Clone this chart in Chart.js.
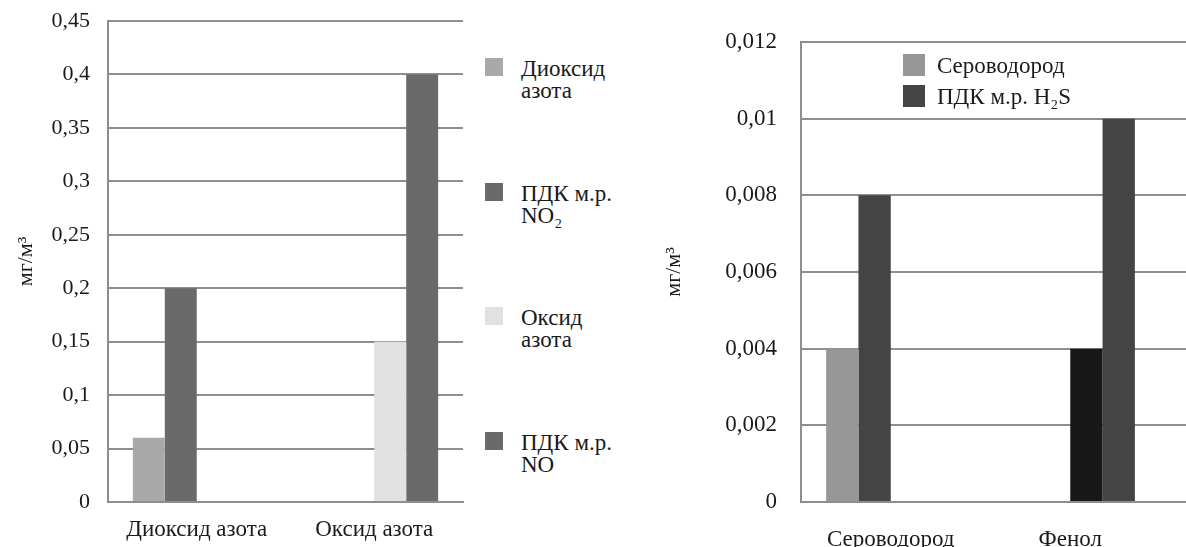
<!DOCTYPE html>
<html>
<head>
<meta charset="utf-8">
<script src="https://cdn.jsdelivr.net/npm/chart.js@4.4.1/dist/chart.umd.min.js"></script>
<style>
  body { margin: 0; background: #fff; }
  #wrap { position: relative; width: 1186px; height: 547px; overflow: hidden;
          font-family: "Liberation Serif", "DejaVu Serif", serif; color: #1a1a1a; }
  canvas { position: absolute; top: 0; }
  #left { left: 0; }
  #right { left: 640px; }
  .legend { position: absolute; }
  #legend-left { left: 485px; top: 58px; }
  #legend-left .item { display: flex; align-items: flex-start; height: 124.5px; }
  #legend-left .box { width: 18px; height: 18px; flex: none; }
  #legend-left .txt { margin-left: 18px; width: 110px; font-size: 23px; line-height: 22px; }
  #legend-right { left: 903px; top: 54px; }
  #legend-right .item { display: flex; align-items: flex-start; height: 31px; }
  #legend-right .box { width: 22px; height: 22px; flex: none; }
  #legend-right .txt { margin-left: 12px; font-size: 23px; line-height: 31px; margin-top: -4px; white-space: nowrap; }
</style>
</head>
<body>
<div id="wrap">
  <canvas id="left" width="470" height="547"></canvas>
  <canvas id="right" width="546" height="547"></canvas>
  <div class="legend" id="legend-left"></div>
  <div class="legend" id="legend-right"></div>
</div>
<script>
// left chart: nitrogen oxides
const leftCategories = ['Диоксид азота', 'Оксид азота'];
const leftSeries = ['Диоксид азота', 'ПДК м.р. NO₂', 'Оксид азота', 'ПДК м.р. NO'];
const no2Values = [0.06, null];
const no2Limit = [0.2, null];
const noValues = [null, 0.15];
const noLimit = [null, 0.4];
const leftTicks = [0, 0.05, 0.1, 0.15, 0.2, 0.25, 0.3, 0.35, 0.4, 0.45];

// right chart: hydrogen sulfide and phenol
const rightCategories = ['Сероводород', 'Фенол'];
const rightSeries = ['Сероводород', 'ПДК м.р. H₂S', 'Фенол', 'ПДК м.р. фенола'];
const h2sValues = [0.004, null];
const h2sLimit = [0.008, null];
const phenolValues = [null, 0.004];
const phenolLimit = [null, 0.01];
const rightTicks = [0, 0.002, 0.004, 0.006, 0.008, 0.01, 0.012];

const gridColor = '#8e8e8e';
const textColor = '#1a1a1a';

Chart.defaults.font.family = '"Liberation Serif", "DejaVu Serif", serif';
Chart.defaults.color = textColor;

const comma = v => String(v).replace('.', ',');

// draw the horizontal gridlines on to the edge of the canvas
const extendGrid = {
  id: 'extendGrid',
  beforeDatasetsDraw(chart) {
    const y = chart.scales.y, ctx = chart.ctx;
    ctx.save();
    ctx.strokeStyle = gridColor;
    ctx.lineWidth = 2;
    y.ticks.forEach(t => {
      const py = Math.round(y.getPixelForValue(t.value));
      ctx.beginPath();
      ctx.moveTo(chart.chartArea.right, py);
      ctx.lineTo(chart.width, py);
      ctx.stroke();
    });
    ctx.restore();
  }
};

function makeChart(id, cats, series, data, colors, ticks, opt) {
  return new Chart(document.getElementById(id), {
    type: 'bar',
    data: {
      labels: cats,
      datasets: series.map((name, i) => ({
        label: name,
        data: data[i],
        backgroundColor: colors[i],
        borderWidth: 0
      }))
    },
    options: {
      responsive: false,
      animation: false,
      devicePixelRatio: 1,
      layout: { padding: { top: opt.top, right: opt.right, left: 0, bottom: 0 } },
      datasets: { bar: { categoryPercentage: 0.72, barPercentage: 1 } },
      plugins: { legend: { display: false }, tooltip: { enabled: false } },
      scales: {
        x: {
          grid: { display: false },
          border: { display: true, color: gridColor, width: 2 },
          ticks: { font: { size: 23 }, padding: opt.xPad, color: textColor },
          afterFit: s => { s.height = 45; }
        },
        y: {
          min: 0,
          max: ticks[ticks.length - 1],
          afterBuildTicks: s => { s.ticks = ticks.map(v => ({ value: v })); },
          grid: { color: gridColor, lineWidth: 2, drawTicks: false },
          border: { display: true, color: gridColor, width: 2 },
          ticks: { font: { size: opt.yFont }, padding: opt.yPad, color: textColor, callback: v => comma(v) },
          title: { display: true, text: 'мг/м³', font: { size: 22 }, padding: { top: opt.titlePad }, color: textColor },
          afterFit: s => {
            s.width = opt.yWidth;
            s.paddingTop = 0;
            s.paddingBottom = 0;
          }
        }
      }
    },
    plugins: opt.extend ? [extendGrid] : []
  });
}

const leftChart = makeChart('left', leftCategories, leftSeries,
  [no2Values, no2Limit, noValues, noLimit],
  ['#a9a9a9', '#6a6a6a', '#e1e1e1', '#6a6a6a'],
  leftTicks,
  { top: 21, right: 7, xPad: 6, yPad: 18, yFont: 22, titlePad: 13, yWidth: 108, extend: false });

const rightChart = makeChart('right', rightCategories, rightSeries,
  [h2sValues, h2sLimit, phenolValues, phenolLimit],
  ['#979797', '#444444', '#181818', '#444444'],
  rightTicks,
  { top: 42, right: 26, xPad: 16, yPad: 24, yFont: 23, titlePad: 21, yWidth: 161, extend: true });

// html legends built from the chart datasets
function buildLegend(chart, el, count) {
  chart.data.datasets.slice(0, count).forEach(ds => {
    const item = document.createElement('div');
    item.className = 'item';
    const box = document.createElement('div');
    box.className = 'box';
    box.style.background = ds.backgroundColor;
    const txt = document.createElement('div');
    txt.className = 'txt';
    txt.textContent = ds.label;
    item.appendChild(box);
    item.appendChild(txt);
    el.appendChild(item);
  });
}
buildLegend(leftChart, document.getElementById('legend-left'), 4);
buildLegend(rightChart, document.getElementById('legend-right'), 2);
</script>
</body>
</html>
